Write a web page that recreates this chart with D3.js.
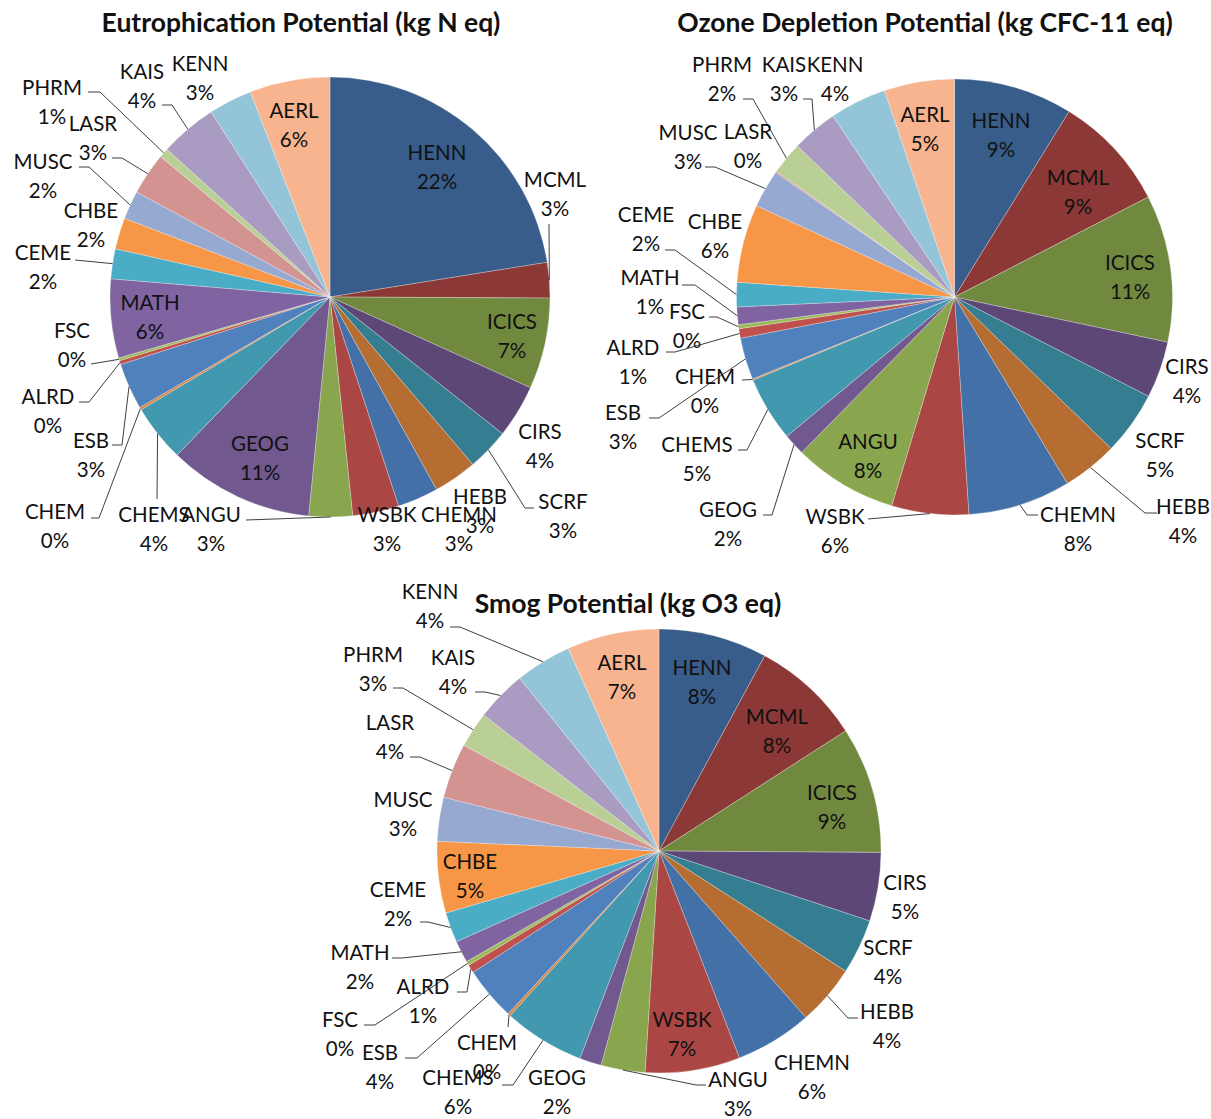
<!DOCTYPE html>
<html>
<head>
<meta charset="utf-8">
<script src="https://cdn.jsdelivr.net/npm/d3@7"></script>
<style>
  body { margin: 0; background: #fff; }
  svg text { font-family: Lato, "Open Sans", sans-serif; fill: #111; }
</style>
</head>
<body>
<div id="chart"></div>
<script>
// Buildings, in the order the slices run (clockwise from 12 o'clock)
var categories = ["HENN", "MCML", "ICICS", "CIRS", "SCRF", "HEBB", "CHEMN", "WSBK", "ANGU", "GEOG", "CHEMS", "CHEM",
                  "ESB", "ALRD", "FSC", "MATH", "CEME", "CHBE", "MUSC", "LASR", "PHRM", "KAIS", "KENN", "AERL"];

// share of each building (percent)
var eutrophication = [22.5, 2.6, 6.7, 3.9, 3.1, 3.2, 3.0, 3.4, 3.2, 10.7, 4.2, 0.2,
                      3.4, 0.3, 0.2, 5.8, 2.2, 2.3, 2.1, 3.1, 0.7, 4.2, 3.2, 5.9];
var ozoneDepletion = [8.8, 8.6, 10.9, 4.2, 4.7, 4.1, 7.6, 5.7, 7.7, 1.6, 4.8, 0.1,
                      3.1, 0.7, 0.3, 1.3, 1.8, 5.8, 2.8, 0.1, 2.4, 3.4, 4.2, 5.2];
var smog = [7.9, 8.0, 9.2, 5.0, 4.0, 4.4, 5.6, 6.9, 3.2, 1.6, 5.9, 0.2,
            3.9, 0.6, 0.3, 1.6, 2.2, 5.2, 3.2, 4.0, 2.6, 3.7, 4.1, 6.7];

var titles = ["Eutrophication Potential (kg N eq)",
              "Ozone Depletion Potential (kg CFC-11 eq)",
              "Smog Potential (kg O3 eq)"];

// Excel 2010 default palette for 24 points
var colors = ["#385d8a", "#8c3836", "#71893f", "#5c4776", "#357d91", "#b66d31",
              "#4470a8", "#aa4643", "#89a54e", "#71588f", "#4198af", "#db843d",
              "#4f81bd", "#c0504d", "#9bbb59", "#8064a2", "#4bacc6", "#f79646",
              "#95a9d1", "#d39391", "#b9cf95", "#a99bc1", "#93c4d7", "#f8b48f"];

// label placement: [x, y of first line, hookX, hookY, stub] - hook only for leader lines
var eutroLabels = {
  HENN: [437, 153], MCML: [555, 180, 549, 224, 0], ICICS: [512, 322], CIRS: [540, 432],
  SCRF: [563, 502, 534, 508, 9], HEBB: [480, 497], CHEMN: [459, 515], WSBK: [387, 515],
  ANGU: [211, 515, 246, 520, 0], GEOG: [260, 444], CHEMS: [154, 515, 157, 499, 0],
  CHEM: [55, 512, 91, 518, 8], ESB: [91, 441, 112, 445, 10], ALRD: [48, 397, 79, 402, 10],
  FSC: [72, 331, 91, 364, 0], MATH: [150, 303], CEME: [43, 253, 75, 260, 0],
  CHBE: [91, 211], MUSC: [43, 162, 79, 167, 10], LASR: [93, 124, 112, 158, 10],
  PHRM: [52, 88, 88, 92, 12], KAIS: [142, 72, 162, 105, 10], KENN: [200, 64], AERL: [294, 111]
};
var ozoneLabels = {
  HENN: [1001, 121], MCML: [1078, 178], ICICS: [1130, 263], CIRS: [1187, 367],
  SCRF: [1160, 441], HEBB: [1183, 507, 1157, 513, 12], CHEMN: [1078, 515, 1038, 515, 11],
  WSBK: [835, 517, 868, 519, 0], ANGU: [868, 442], GEOG: [728, 510, 763, 515, 9],
  CHEMS: [697, 445, 738, 450, 9], CHEM: [705, 377, 742, 380, 0], ESB: [623, 413, 649, 418, 10],
  ALRD: [633, 348, 666, 352, 9], FSC: [687, 312, 709, 317, 8], MATH: [650, 278, 682, 285, 13],
  CEME: [646, 215, 665, 250, 10], CHBE: [715, 222], MUSC: [688, 133, 705, 167, 10],
  LASR: [748, 132], PHRM: [722, 65, 743, 99, 10], KAIS: [784, 65, 803, 99, 9],
  KENN: [835, 65], AERL: [925, 115]
};
var smogLabels = {
  HENN: [702, 668], MCML: [777, 717], ICICS: [832, 793], CIRS: [905, 883], SCRF: [888, 948],
  HEBB: [887, 1012, 858, 1018, 10], CHEMN: [812, 1063], WSBK: [682, 1020],
  ANGU: [738, 1080, 706, 1085, 10], GEOG: [557, 1078], CHEMS: [458, 1078, 502, 1085, 11],
  CHEM: [487, 1043, 508, 1027, 0], ESB: [380, 1053, 405, 1058, 12], ALRD: [423, 987, 457, 992, 10],
  FSC: [340, 1020, 364, 1025, 11], MATH: [360, 953, 392, 958, 10], CEME: [398, 890, 420, 922, 8],
  CHBE: [470, 862], MUSC: [403, 800], LASR: [390, 723, 410, 757, 10],
  PHRM: [373, 655, 393, 688, 10], KAIS: [453, 658, 475, 692, 10], KENN: [430, 592, 450, 627, 10],
  AERL: [622, 663]
};

var width = 1211, height = 1119;
var lineGap = 28.5;

var charts = [
  {title: titles[0], values: eutrophication, labels: eutroLabels, cx: 330, cy: 297, r: 220, tx: 301, ty: 32},
  {title: titles[1], values: ozoneDepletion, labels: ozoneLabels, cx: 954.5, cy: 297, r: 218, tx: 925, ty: 32},
  {title: titles[2], values: smog, labels: smogLabels, cx: 659, cy: 851, r: 222, tx: 628, ty: 613}
];

var svg = d3.select("#chart")
    .append("svg")
    .attr("width", width)
    .attr("height", height);

var pie = d3.pie().sort(null).value(d => d);

charts.forEach(function(c) {
    var total = d3.sum(c.values);
    var arcs = pie(c.values);
    var arc = d3.arc().innerRadius(0).outerRadius(c.r);
    var rim = d3.arc().innerRadius(c.r).outerRadius(c.r);

    svg.append("text")
        .attr("x", c.tx)
        .attr("y", c.ty)
        .attr("text-anchor", "middle")
        .style("font-size", "26.5px")
        .style("font-weight", "bold")
        .text(c.title);

    var g = svg.append("g")
        .attr("transform", `translate(${c.cx},${c.cy})`);

    g.selectAll("path")
        .data(arcs)
        .enter()
        .append("path")
        .attr("d", arc)
        .attr("fill", (d, i) => colors[i])
        .attr("stroke", "rgba(255,255,255,0.45)")
        .attr("stroke-width", 0.6);

    // leader lines
    arcs.forEach(function(d, i) {
        var spec = c.labels[categories[i]];
        if (spec.length < 3) return;
        var edge = rim.centroid(d);
        var ex = edge[0] + c.cx, ey = edge[1] + c.cy;
        var hx = spec[2], hy = spec[3], stub = spec[4];
        var dir = ex < hx ? -1 : 1;
        var pts = [[ex, ey], [hx + dir * stub, hy], [hx, hy]];
        svg.append("path")
            .attr("d", d3.line()(pts))
            .attr("fill", "none")
            .attr("stroke", "#3f3f3f")
            .attr("stroke-width", 1);
    });

    // data labels
    arcs.forEach(function(d, i) {
        var spec = c.labels[categories[i]];
        var pct = Math.round(d.value / total * 100) + "%";
        var t = svg.append("text")
            .attr("text-anchor", "middle")
            .style("font-size", "20.5px");
        t.append("tspan")
            .attr("x", spec[0])
            .attr("y", spec[1])
            .attr("dy", "0.36em")
            .text(categories[i]);
        t.append("tspan")
            .attr("x", spec[0])
            .attr("y", spec[1] + lineGap)
            .attr("dy", "0.36em")
            .text(pct);
    });
});
</script>
</body>
</html>
